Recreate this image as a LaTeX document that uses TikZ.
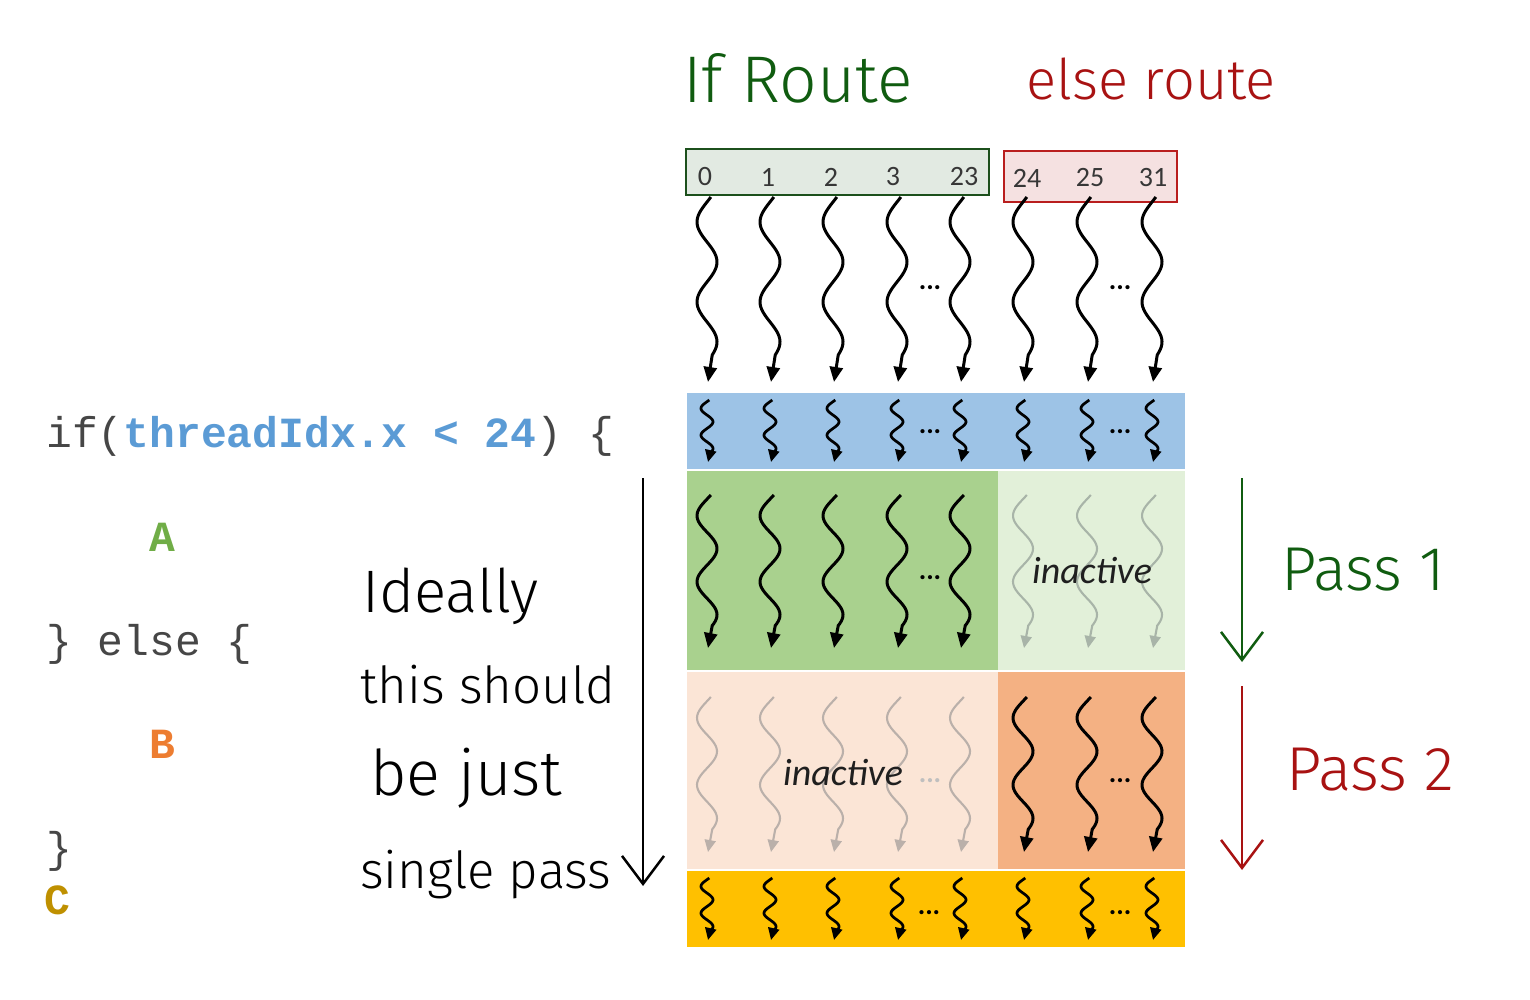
\documentclass[tikz,border=0pt]{standalone}
\usepackage{fontspec}
\setmainfont{Carlito}
\newfontfamily\codefont{Liberation Mono}
\newfontfamily\hand{Fira Sans Light}
\usetikzlibrary{arrows.meta}
\definecolor{hgreen}{RGB}{16,92,16}
\definecolor{hred}{RGB}{168,18,18}
\definecolor{boxg}{RGB}{226,234,226}
\definecolor{boxgb}{RGB}{28,80,28}
\definecolor{boxr}{RGB}{245,225,225}
\definecolor{boxrb}{RGB}{185,30,30}
\definecolor{bandblue}{RGB}{157,195,230}
\definecolor{bandgreen}{RGB}{169,209,142}
\definecolor{bandlgreen}{RGB}{226,240,217}
\definecolor{bandpeach}{RGB}{251,229,214}
\definecolor{bandorange}{RGB}{244,177,131}
\definecolor{bandyellow}{RGB}{255,192,0}
\definecolor{codegray}{RGB}{70,70,70}
\definecolor{codeblue}{RGB}{91,155,213}
\definecolor{codegreen}{RGB}{112,173,71}
\definecolor{codeorange}{RGB}{237,125,49}
\definecolor{codegold}{RGB}{191,144,0}
\definecolor{inactg}{RGB}{168,180,168}
\definecolor{inactp}{RGB}{186,176,170}
\definecolor{labgray}{RGB}{55,55,55}
\newcommand\squig[5]{%
  \draw[#5] plot[domain=0:0.854,samples=60,smooth]
    ({#1-#4*sin(-22.5+833*\x)},{#2+\x*(#3-#2)}) -- (#1+1,#3);}
\tikzset{
  sqbig/.style={line width=3pt,black,-{Triangle[length=15pt,width=13pt]}},
  sqsmall/.style={line width=2.7pt,black,-{Triangle[length=12pt,width=11pt]}},
  sqgrayg/.style={line width=2.1pt,inactg,-{Triangle[length=12pt,width=11pt]}},
  sqgrayp/.style={line width=2.1pt,inactp,-{Triangle[length=12pt,width=11pt]}},
  code/.style={anchor=base west,inner sep=0pt,font=\codefont\fontsize{43}{50}\selectfont},
  handtxt/.style={anchor=base west,inner sep=0pt},
  tlabel/.style={inner sep=0pt,text=labgray,font=\fontsize{28}{32}\selectfont},
  dots/.style={anchor=base,inner sep=0pt,font=\bfseries\fontsize{28}{32}\selectfont},
  inact/.style={anchor=base,inner sep=0pt,text=black!88,font=\itshape\fontsize{38}{44}\selectfont},
  bigarrow/.style={line width=2.5pt,-{Straight Barb[length=28pt,width=42pt]}},
}
\begin{document}
\begin{tikzpicture}[x=1pt,y=-1pt]
\path[use as bounding box] (0,0) rectangle (1530,1000);
% handwritten headings
\node[handtxt,text=hgreen,font=\hand\fontsize{66}{70}\selectfont] (ifr) at (683,103) {If Route};
\node[handtxt,text=hred,font=\hand\fontsize{56}{60}\selectfont] (elr) at (1026,100) {else route};
% thread boxes
\draw[line width=2.7pt,draw=boxgb,fill=boxg] (686,149) rectangle (989,195);
\draw[line width=2.7pt,draw=boxrb,fill=boxr] (1004,151) rectangle (1177,202);
\node[tlabel] (t0) at (705,177) {0};
\node[tlabel] (t1) at (768,177) {1};
\node[tlabel] (t2) at (831,177) {2};
\node[tlabel] (t3) at (893,177) {3};
\node[tlabel] (t23) at (964,177) {23};
\node[tlabel] (t24) at (1027,178) {24};
\node[tlabel] (t25) at (1090,178) {25};
\node[tlabel] (t31) at (1153,178) {31};
% bands
\fill[bandblue] (687,393) rectangle (1185,469);
\fill[bandgreen] (687,471) rectangle (998,670);
\fill[bandlgreen] (998,471) rectangle (1185,670);
\fill[bandpeach] (687,672) rectangle (998,869);
\fill[bandorange] (998,672) rectangle (1185,869);
\fill[bandyellow] (687,871) rectangle (1185,947);
% squiggles
\foreach \c in {707,770,833,897,960,1023,1087,1152} {
  \squig{\c}{197}{382}{10}{sqbig}
  \squig{\c}{400}{462}{6}{sqsmall}
  \squig{\c}{878}{940}{6}{sqsmall}
}
\foreach \c in {707,770,833,897,960} {
  \squig{\c}{495}{648}{10}{sqbig}
  \squig{\c}{697}{852}{10}{sqgrayp}
}
\foreach \c in {1023,1087,1152} {
  \squig{\c}{495}{648}{10}{sqgrayg}
  \squig{\c}{697}{852}{10}{sqbig}
}
% dots
\node[dots] (d1) at (930,289) {...};
\node[dots] (d2) at (1120,289) {...};
\node[dots] (d3) at (930,433) {...};
\node[dots] (d4) at (1120,433) {...};
\node[dots] (d5) at (930,579) {...};
\node[dots,text=black!25] (d6) at (930,782) {...};
\node[dots] (d7) at (1120,782) {...};
\node[dots] (d8) at (929,914) {...};
\node[dots] (d9) at (1120,914) {...};
\node[inact] (in1) at (1092,583) {inactive};
\node[inact] (in2) at (843,785) {inactive};
% code
\node[code,text=codegray] (c1) at (46,447) {if(\textbf{\color{codeblue}threadIdx.x < 24}) \{};
\node[code,text=codegreen] (cA) at (149,551) {\textbf{A}};
\node[code,text=codegray] (c2) at (46,655) {\} else \{};
\node[code,text=codeorange] (cB) at (149,758) {\textbf{B}};
\node[code,text=codegray] (c3) at (46,862) {\}};
\node[code,text=codegold] (cC) at (44,914) {\textbf{C}};
% handwritten note
\node[handtxt,font=\hand\fontsize{60}{64}\selectfont] (n1) at (362,612) {Ideally};
\node[handtxt,font=\hand\fontsize{51}{64}\selectfont] (n2) at (360,703) {this should};
\node[handtxt,font=\hand\fontsize{63}{64}\selectfont] (n3) at (370,795) {be just};
\node[handtxt,font=\hand\fontsize{51}{64}\selectfont] (n4) at (360,888) {single pass};
% pass labels
\node[handtxt,text=hgreen,font=\hand\fontsize{62}{70}\selectfont] (p1) at (1281,590) {Pass 1};
\node[handtxt,text=hred,font=\hand\fontsize{62}{70}\selectfont] (p2) at (1286,790) {Pass 2};
% arrows
\coordinate (la1) at (643,478); \coordinate (la2) at (643,886);
\coordinate (ga1) at (1242,478); \coordinate (ga2) at (1242,662);
\coordinate (ra1) at (1242,686); \coordinate (ra2) at (1242,870);
\draw[bigarrow,black] (la1) -- (la2);
\draw[bigarrow,hgreen] (ga1) -- (ga2);
\draw[bigarrow,hred] (ra1) -- (ra2);
\end{tikzpicture}
\end{document}
